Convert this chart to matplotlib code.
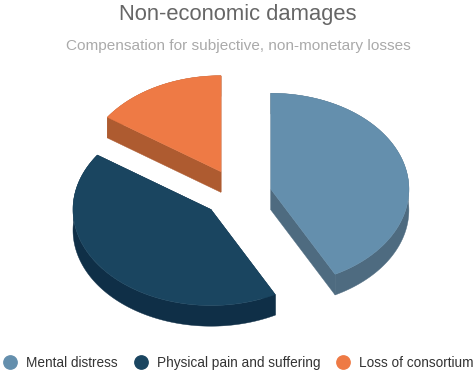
import numpy as np
import matplotlib
matplotlib.use("Agg")
import matplotlib.pyplot as plt
from matplotlib.lines import Line2D

plt.rcParams['font.family'] = ['Liberation Sans', 'DejaVu Sans']

title = "Non-economic damages"
subtitle = "Compensation for subjective, non-monetary losses"
categories = ["Mental distress", "Physical pain and suffering", "Loss of consortium"]
values = [42.3, 42.3, 15.4]

top_colors = ["#648fad", "#1a4560", "#ee7a45"]
side_colors = ["#4e6b80", "#0f2f47", "#ae5b30"]
apexes = [(270.9, 189.3), (211.0, 209.5), (221.0, 171.7)]
RX, RY, DEPTH = 138.0, 96.0, 20.7

W, H = 474, 374
fig = plt.figure(figsize=(W / 100, H / 100), dpi=100, facecolor="white")
ax = fig.add_axes([0, 0, 1, 1])
ax.set_xlim(0, W)
ax.set_ylim(H, 0)
ax.axis("off")

fractions = np.array(values) / np.sum(values)
edges = np.concatenate([[0], np.cumsum(fractions)]) * 2 * np.pi

for i in [2, 0, 1]:
    t = np.linspace(edges[i], edges[i + 1], 200)
    x0, y0 = apexes[i]
    arc_x = x0 + RX * np.sin(t)
    arc_y = y0 - RY * np.cos(t)
    # extruded wall: outer arc strip and both radial edges, then the top face
    ax.fill(np.r_[arc_x, arc_x[::-1]], np.r_[arc_y, arc_y[::-1] + DEPTH],
            color=side_colors[i], lw=0.3, zorder=1)
    for k in (0, -1):
        ax.fill([x0, arc_x[k], arc_x[k], x0], [y0, arc_y[k], arc_y[k] + DEPTH, y0 + DEPTH],
                color=side_colors[i], lw=0.3, zorder=1)
    ax.fill(np.r_[x0, arc_x], np.r_[y0, arc_y], color=top_colors[i], lw=0.3, zorder=2)

ax.text(237.5, 14.5, title, ha="center", va="center", fontsize=15.85, color="#666666")
ax.text(238, 45.5, subtitle, ha="center", va="center", fontsize=11.05, color="#aaaaaa")

handles = [Line2D([], [], ls="none", marker="o", ms=9.6, mfc=c, mec=c) for c in top_colors]
leg = ax.legend(handles, categories, ncol=3, loc="center", bbox_to_anchor=(239 / W, 1 - 363 / H),
                frameon=False, fontsize=9.8, labelcolor="#333333",
                handlelength=0.8, handletextpad=0.78, columnspacing=1.25, borderpad=0, borderaxespad=0)

fig.savefig("out.png", dpi=100, facecolor="white")
